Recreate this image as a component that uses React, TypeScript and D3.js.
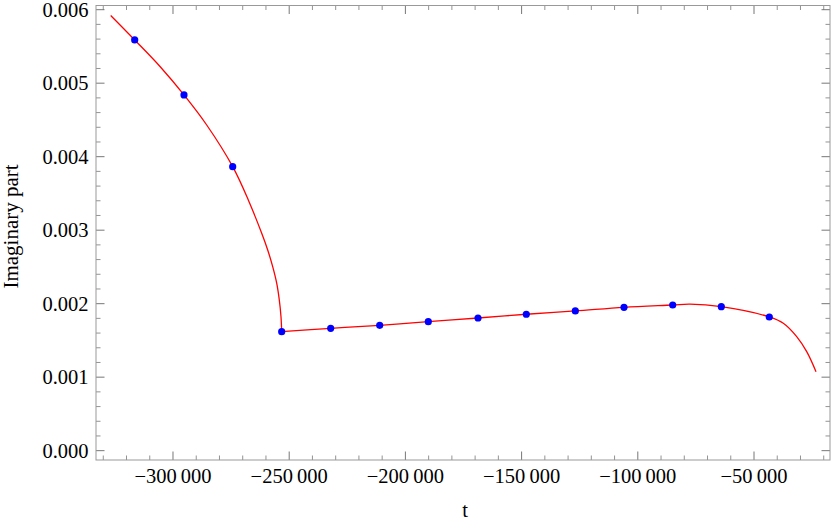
import React from "react";
import * as d3 from "d3";

// Sample points (blue dots)
const pointT = [-316480, -295270, -274310, -253230, -232140, -211060, -190150, -168760, -147980, -126890, -105940, -84980, -64070, -43420];
const pointV = [0.005588, 0.00484, 0.003864, 0.001619, 0.001665, 0.001706, 0.001755, 0.001805, 0.001856, 0.001901, 0.001951, 0.001982, 0.001959, 0.001819];

// Fitted curve (red line): left branch (falls into the branch point)
const leftT = [-326810, -316480, -305590, -295270, -285500, -274310, -267600, -261830, -259250, -257100, -255380, -254260, -253530, -253230];
const leftV = [0.005921, 0.005588, 0.005227, 0.00484, 0.004431, 0.003864, 0.003411, 0.002958, 0.002731, 0.002503, 0.002278, 0.00205, 0.001823, 0.001619];
// right branch (after the branch point)
const rightT = [-253230, -232140, -211060, -190150, -168760, -147980, -126890, -105940, -84980, -77540, -64070, -43420, -37390, -31630, -27320, -23320];
const rightV = [0.001619, 0.001665, 0.001706, 0.001755, 0.001805, 0.001856, 0.001901, 0.001951, 0.001982, 0.001994, 0.001959, 0.001819, 0.001733, 0.001551, 0.001347, 0.001075];

const xMajor = [-300000, -250000, -200000, -150000, -100000, -50000];
const yMajor = [0, 0.001, 0.002, 0.003, 0.004, 0.005, 0.006];
const xLabels = ["\u2212300\u2009000", "\u2212250\u2009000", "\u2212200\u2009000", "\u2212150\u2009000", "\u2212100\u2009000", "\u221250\u2009000"];
const yLabels = ["0.000", "0.001", "0.002", "0.003", "0.004", "0.005", "0.006"];

export default function App() {
  const W = 831, H = 522;
  const left = 96, right = 830, top = 5.5, bottom = 460;
  const x = d3.scaleLinear().domain([-333130, -17300]).range([left, right]);
  const y = d3.scaleLinear().domain([-0.000127, 0.006057]).range([bottom, top]);

  const xMinor = d3.range(-330000, -19999, 10000).filter((v) => !xMajor.includes(v));
  const yMinor = d3.range(0, 0.00605, 0.0002).map((v) => +v.toFixed(4)).filter((v) => !yMajor.some((m) => Math.abs(m - v) < 1e-9));

  const leftPath = d3.line<number>().x((i) => x(leftT[i])).y((i) => y(leftV[i])).curve(d3.curveCatmullRom.alpha(0.5))(leftT.map((_, i) => i)) || "";
  const rightPath = d3.line<number>().x((i) => x(rightT[i])).y((i) => y(rightV[i])).curve(d3.curveCatmullRom.alpha(0.5))(rightT.map((_, i) => i)) || "";

  const textStyle = { fontFamily: "'Liberation Serif', 'Times New Roman', serif" };
  const majL = 8.5, minL = 4.5;
  const tickColor = "#777";

  return (
    <svg width={W} height={H} style={{ position: "absolute", left: 0, top: 0, background: "#fff" }}>
      {xMajor.map((v) => (
        <g key={"xM" + v}>
          <line x1={x(v)} x2={x(v)} y1={bottom} y2={bottom - majL} stroke={tickColor} strokeWidth={1} />
          <line x1={x(v)} x2={x(v)} y1={top} y2={top + majL} stroke={tickColor} strokeWidth={1} />
        </g>
      ))}
      {xMinor.map((v) => (
        <g key={"xm" + v}>
          <line x1={x(v)} x2={x(v)} y1={bottom} y2={bottom - minL} stroke={tickColor} strokeWidth={0.8} />
          <line x1={x(v)} x2={x(v)} y1={top} y2={top + minL} stroke={tickColor} strokeWidth={0.8} />
        </g>
      ))}
      {yMajor.map((v) => (
        <g key={"yM" + v}>
          <line x1={left} x2={left + majL} y1={y(v)} y2={y(v)} stroke={tickColor} strokeWidth={1} />
          <line x1={right} x2={right - majL} y1={y(v)} y2={y(v)} stroke={tickColor} strokeWidth={1} />
        </g>
      ))}
      {yMinor.map((v) => (
        <g key={"ym" + v}>
          <line x1={left} x2={left + minL} y1={y(v)} y2={y(v)} stroke={tickColor} strokeWidth={0.8} />
          <line x1={right} x2={right - minL} y1={y(v)} y2={y(v)} stroke={tickColor} strokeWidth={0.8} />
        </g>
      ))}
      <rect x={left} y={top} width={right - left} height={bottom - top} fill="none" stroke="#999" strokeWidth={1} />

      {xMajor.map((v, i) => (
        <text key={"xl" + v} x={x(v)} y={483} textAnchor="middle" style={textStyle} fontSize={20.5} fill="#000">
          {xLabels[i]}
        </text>
      ))}
      {yMajor.map((v, i) => (
        <text key={"yl" + v} x={88.5} y={y(v) + 7} textAnchor="end" style={textStyle} fontSize={20.5} fill="#000">
          {yLabels[i]}
        </text>
      ))}
      <text x={465} y={517} textAnchor="middle" style={textStyle} fontSize={20.5} fill="#000">t</text>
      <text transform={`translate(18, 226.5) rotate(-90)`} textAnchor="middle" style={textStyle} fontSize={21} fill="#000">
        Imaginary part
      </text>

      <path d={leftPath} fill="none" stroke="#ff0000" strokeWidth={1.3} />
      <path d={rightPath} fill="none" stroke="#ff0000" strokeWidth={1.3} />
      {pointT.map((t, i) => (
        <circle key={"p" + i} cx={x(t)} cy={y(pointV[i])} r={3.6} fill="#0000ff" />
      ))}
    </svg>
  );
}
